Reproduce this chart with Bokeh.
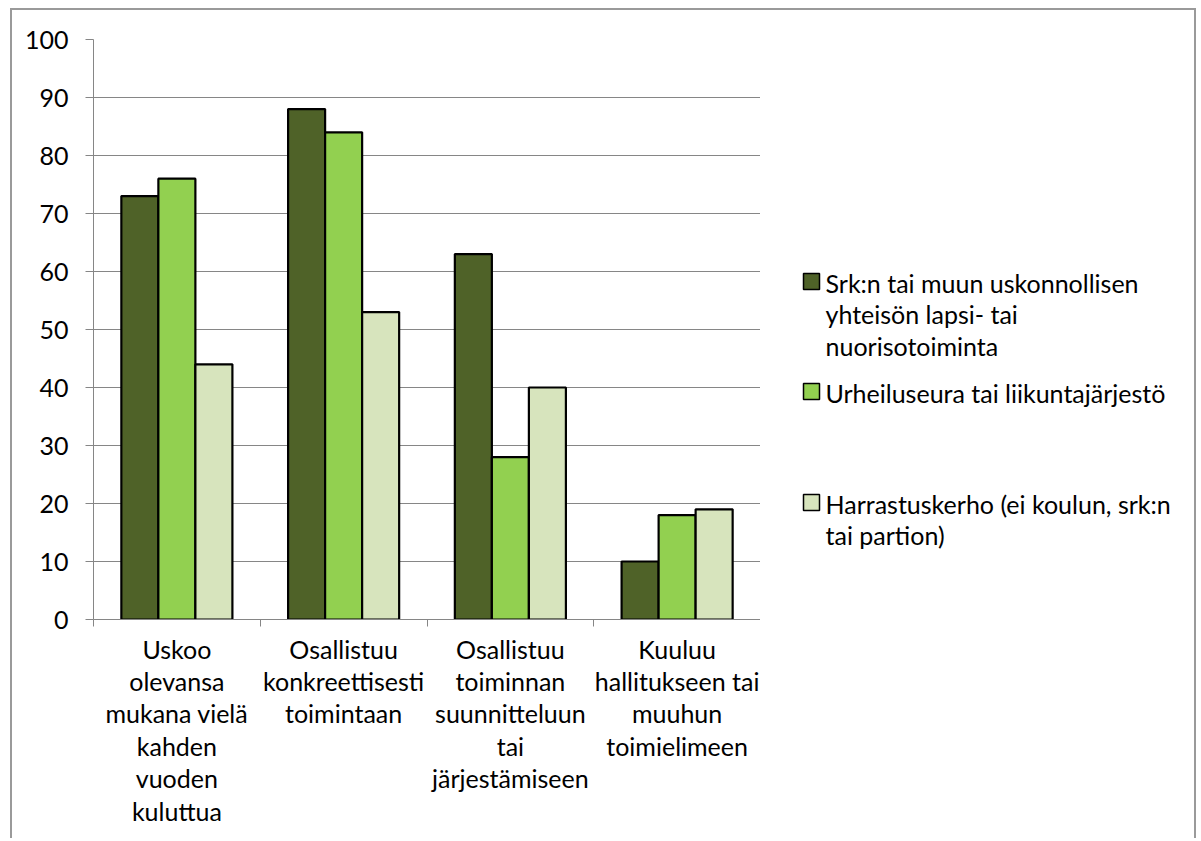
from bokeh.plotting import figure
from bokeh.layouts import row
from bokeh.models import FixedTicker, Range1d, ColumnDataSource
from bokeh.core.properties import value
from bokeh.embed import file_html
from bokeh.resources import INLINE

# ---- data ----
categories = [
    "Uskoo\nolevansa\nmukana vielä\nkahden\nvuoden\nkuluttua",
    "Osallistuu\nkonkreettisesti\ntoimintaan",
    "Osallistuu\ntoiminnan\nsuunnitteluun\ntai\njärjestämiseen",
    "Kuuluu\nhallitukseen tai\nmuuhun\ntoimielimeen",
]
series_names = [
    "Srk:n tai muun uskonnollisen\nyhteisön lapsi- tai\nnuorisotoiminta",
    "Urheiluseura tai liikuntajärjestö",
    "Harrastuskerho (ei koulun, srk:n\ntai partion)",
]
srk_values = [73, 88, 63, 10]
urheilu_values = [76, 84, 28, 18]
harrastus_values = [44, 53, 40, 19]
series_values = [srk_values, urheilu_values, harrastus_values]
colors = ["#4F6228", "#92D050", "#D7E4BD"]
y_ticks = [0, 10, 20, 30, 40, 50, 60, 70, 80, 90, 100]

# ---- layout (page pixels) ----
FONT = "Lato"
FS = "25px"
N = len(categories)
BW = 0.222
GRAY = "#868686"
BORDER = "2px solid #9a9a9a"
CANVAS_H = 828
MB_TOP, FRAME_H = 29, 580
MB_BOT = CANVAS_H - MB_TOP - FRAME_H
FRAME_TOP_PAGE = 39
FRAME_BOT_PAGE = FRAME_TOP_PAGE + FRAME_H
LEG_LEFT_PAGE, LEG_W = 760, 434

p = figure(frame_width=667, frame_height=FRAME_H,
           x_range=Range1d(0, N), y_range=Range1d(0, 100),
           output_backend="svg", toolbar_location=None,
           min_border_left=81, min_border_top=MB_TOP,
           min_border_right=0, min_border_bottom=MB_BOT)
p.outline_line_color = None
p.xgrid.visible = False
p.ygrid.ticker = FixedTicker(ticks=y_ticks)
p.ygrid.grid_line_color = GRAY
p.ygrid.grid_line_width = 1

# bars
for j, vals in enumerate(series_values):
    src = ColumnDataSource(dict(x=[i + 0.5 + (j - 1) * BW for i in range(N)], top=vals))
    p.vbar(x="x", top="top", bottom=0, width=BW, source=src,
           fill_color=colors[j], line_color="black", line_width=2.2)

# y axis
p.yaxis.ticker = FixedTicker(ticks=y_ticks)
p.yaxis.major_tick_out = 8
p.yaxis.major_tick_in = 0
p.yaxis.minor_tick_line_color = None
p.yaxis.axis_line_color = GRAY
p.yaxis.major_tick_line_color = GRAY
p.yaxis.major_label_standoff = 17
p.yaxis.major_label_text_font = FONT
p.yaxis.major_label_text_font_size = FS
p.yaxis.major_label_text_color = "black"

# x axis: labels at category centres, tick marks at category boundaries
centers = [i + 0.5 for i in range(N)]
p.xaxis.ticker = FixedTicker(ticks=centers, minor_ticks=list(range(N + 1)))
p.xaxis.major_label_overrides = {c: cat for c, cat in zip(centers, categories)}
p.xaxis.major_tick_line_color = None
p.xaxis.major_tick_out = 0
p.xaxis.major_tick_in = 0
p.xaxis.minor_tick_out = 7
p.xaxis.minor_tick_in = 0
p.xaxis.minor_tick_line_color = GRAY
p.xaxis.axis_line_color = GRAY
p.xaxis.major_label_standoff = 7
p.xaxis.major_label_text_font = FONT
p.xaxis.major_label_text_font_size = FS
p.xaxis.major_label_text_color = "black"
p.xaxis.major_label_text_line_height = 1.08

# legend panel: its ranges are page pixel coordinates (y downward)
leg = figure(frame_width=LEG_W, frame_height=FRAME_H,
             x_range=Range1d(LEG_LEFT_PAGE, LEG_LEFT_PAGE + LEG_W),
             y_range=Range1d(FRAME_BOT_PAGE, FRAME_TOP_PAGE),
             output_backend="svg", toolbar_location=None,
             x_axis_location=None, y_axis_location=None,
             min_border_left=0, min_border_right=0,
             min_border_top=MB_TOP, min_border_bottom=MB_BOT)
leg.outline_line_color = None
leg.grid.visible = False

SQ_X, TXT_X, PITCH = 811, 825, 31.7
entry_y = [282, 392, 503]
leg.rect(x=[SQ_X] * len(series_names), y=[y - 1 for y in entry_y], width=16, height=16,
         width_units="screen", height_units="screen",
         fill_color=colors, line_color="black", line_width=1.5)
tx, ty, tt = [], [], []
for j, name in enumerate(series_names):
    for k, line in enumerate(name.split("\n")):
        tx.append(TXT_X)
        ty.append(entry_y[j] + PITCH * k)
        tt.append(line)
leg.text(x=tx, y=ty, text=tt, text_align="left", text_baseline="middle",
         text_font=value(FONT), text_font_size=value(FS), text_color="black")

layout = row(p, leg, styles={"border-top": BORDER, "border-left": BORDER, "border-right": BORDER,
                             "margin-left": "10px", "margin-top": "8px"})

open("out.html", "w").write(file_html(layout, INLINE))
